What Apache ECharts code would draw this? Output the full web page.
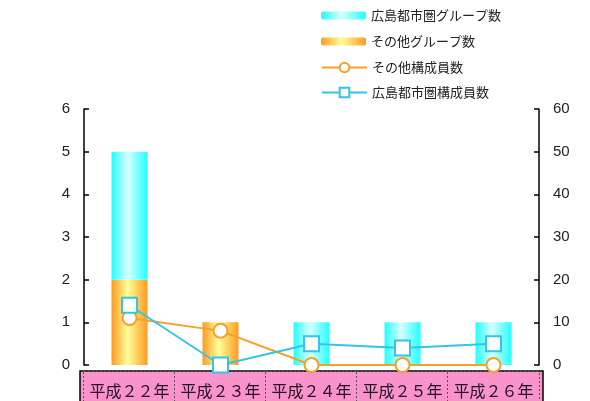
<!DOCTYPE html>
<html><head><meta charset="utf-8">
<script src="https://cdn.jsdelivr.net/npm/echarts@6/dist/echarts.min.js"></script>
<style>html,body{margin:0;padding:0;background:#fff}#c{width:590px;height:401px}</style>
</head><body><div id="c"></div>
<script>
var categories = ['平成２２年','平成２３年','平成２４年','平成２５年','平成２６年'];
var hiroshimaGroups = [3, 0, 1, 1, 1];
var otherGroups = [2, 1, 0, 0, 0];
var otherMembers = [11, 8, 0, 0, 0];
var hiroshimaMembers = [14, 0, 5, 4, 5];
var leftTicks = [0, 6, 1];
var rightTicks = [0, 60, 10];

var cyanGrad = new echarts.graphic.LinearGradient(0,0,1,0,[
  {offset:0,color:'#22ffff'},{offset:0.45,color:'#d8ffff'},{offset:1,color:'#22ffff'}]);
var orangeGrad = new echarts.graphic.LinearGradient(0,0,1,0,[
  {offset:0,color:'#ff9a22'},{offset:0.45,color:'#ffff99'},{offset:1,color:'#ff9a22'}]);

var chart = echarts.init(document.getElementById('c'));
chart.setOption({
  animation:false,
  textStyle:{fontFamily:'"Liberation Sans","Noto Sans CJK JP",sans-serif'},
  grid:{left:84,right:51,top:109,bottom:36,containLabel:false,outerBoundsMode:'none'},
  graphic:[{
    type:'rect', z:-10, silent:true,
    shape:{x:80,y:371,width:463,height:40},
    style:{fill:'#fa92cc',stroke:'#000',lineWidth:1.5}
  }],
  legend:[{
    orient:'vertical', left:316, top:4, itemGap:13, itemWidth:45, itemHeight:8,
    data:[{name:'広島都市圏グループ数',itemStyle:{color:cyanGrad}},{name:'その他グループ数',itemStyle:{color:orangeGrad}}],
    textStyle:{fontSize:13,color:'#222',fontFamily:'"Noto Sans CJK JP",sans-serif'}
  },{
    orient:'vertical', left:316, top:56, itemGap:12, itemWidth:45, itemHeight:12,
    data:['その他構成員数','広島都市圏構成員数'],
    textStyle:{fontSize:13,color:'#222',fontFamily:'"Noto Sans CJK JP",sans-serif'}
  }],
  xAxis:{
    type:'category', data:categories,
    axisLine:{show:false},
    axisTick:{show:false},
    axisLabel:{interval:0, margin:7,
      formatter:function(v){return '{a|'+v+'}';},
      rich:{a:{width:91,height:38,backgroundColor:'#fa92cc',borderColor:'#555',borderWidth:1,borderType:'dotted',
        align:'center',fontSize:16,color:'#221122',fontFamily:'"Noto Sans CJK JP",sans-serif'}}}
  },
  yAxis:[{
    type:'value', min:leftTicks[0], max:leftTicks[1], interval:leftTicks[2],
    axisLine:{show:true,lineStyle:{color:'#000',width:1.5}},
    axisTick:{show:true,inside:true,length:5,lineStyle:{color:'#000',width:1.5}},
    axisLabel:{fontSize:15,color:'#222',margin:14},
    splitLine:{show:false}
  },{
    type:'value', min:rightTicks[0], max:rightTicks[1], interval:rightTicks[2], position:'right',
    axisLine:{show:true,lineStyle:{color:'#000',width:1.5}},
    axisTick:{show:true,inside:true,length:5,lineStyle:{color:'#000',width:1.5}},
    axisLabel:{fontSize:15,color:'#222',margin:14},
    splitLine:{show:false}
  }],
  series:[{
    name:'その他グループ数', type:'bar', stack:'g', data:otherGroups, barWidth:36,
    itemStyle:{color:orangeGrad}
  },{
    name:'広島都市圏グループ数', type:'bar', stack:'g', data:hiroshimaGroups, barWidth:36,
    itemStyle:{color:cyanGrad}
  },{
    name:'その他構成員数', type:'line', yAxisIndex:1, data:otherMembers,
    symbol:'circle', symbolSize:14,
    lineStyle:{color:'#f5a02a',width:2},
    itemStyle:{color:'#fff',borderColor:'#f5a02a',borderWidth:2}
  },{
    name:'広島都市圏構成員数', type:'line', yAxisIndex:1, data:hiroshimaMembers,
    symbol:'rect', symbolSize:15,
    lineStyle:{color:'#33c4ea',width:2},
    itemStyle:{color:'#fff',borderColor:'#33c4ea',borderWidth:2}
  }]
});
</script></body></html>
